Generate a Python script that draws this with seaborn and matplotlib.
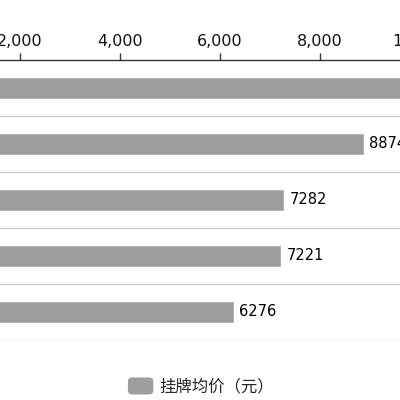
import matplotlib
matplotlib.use("Agg")
import matplotlib.pyplot as plt
import matplotlib.patches as mpatches
from matplotlib.legend_handler import HandlerPatch
from matplotlib.ticker import FuncFormatter, FixedLocator
import pandas as pd
import seaborn as sns

# data (category names are outside the visible crop)
areas = ["区域一", "区域二", "区域三", "区域四", "区域五"]
prices = [10400, 8874, 7282, 7221, 6276]
series_name = "挂牌均价（元）"
x_ticks = [0, 2000, 4000, 6000, 8000, 10000, 12000]

df = pd.DataFrame({"area": areas, "price": prices})

sns.set_theme(style="white")
plt.rcParams["font.family"] = ["DejaVu Sans", "Noto Sans CJK SC"]

fig = plt.figure(figsize=(4, 4), dpi=100)
# axes extends past the figure edges (reference is a crop)
ax = fig.add_axes([-0.2, 0.15, 1.5, 0.70])

bar_color = "#9e9e9e"
sns.barplot(data=df, x="price", y="area", orient="h", color=bar_color,
            width=0.39, saturation=1, ax=ax, label=series_name)

ax.set_xlim(0, 12000)
ax.set_ylim(len(areas) - 0.5, -0.5)
ax.xaxis.tick_top()
ax.set_xticks(x_ticks)
ax.xaxis.set_major_formatter(FuncFormatter(lambda v, p: f"{int(v):,}"))
ax.tick_params(axis="x", direction="out", length=5, width=1, color="#333333",
               labelsize=11.5, labelcolor="#111111", pad=3)
ax.tick_params(axis="y", left=False, labelleft=False)
ax.set_xlabel("")
ax.set_ylabel("")

# separators between categories
ax.yaxis.set_minor_locator(FixedLocator([i + 0.5 for i in range(len(areas))]))
ax.grid(True, axis="y", which="minor", color="#cccccc", linewidth=1)
ax.grid(False, axis="y", which="major")
ax.grid(False, axis="x")

for s in ["left", "right", "bottom"]:
    ax.spines[s].set_visible(False)
ax.spines["top"].set_color("#333333")
ax.spines["top"].set_linewidth(1)

ax.bar_label(ax.containers[0], labels=[str(v) for v in prices], padding=4,
             fontsize=10.5, color="#000000")

if ax.get_legend() is not None:
    ax.get_legend().remove()


class RoundHandler(HandlerPatch):
    def create_artists(self, legend, orig_handle, xdescent, ydescent,
                       width, height, fontsize, trans):
        p = mpatches.FancyBboxPatch((-xdescent, -ydescent - 2), width, height + 4,
                                    boxstyle="round,pad=0,rounding_size=3",
                                    facecolor=bar_color, edgecolor="none",
                                    transform=trans)
        return [p]


handle = mpatches.Patch(color=bar_color, label=series_name)
fig.legend(handles=[handle], handler_map={mpatches.Patch: RoundHandler()},
           loc="center", bbox_to_anchor=(0.502, 0.032), frameon=False,
           handlelength=1.55, handletextpad=0.35,
           prop={"family": ["Noto Sans CJK SC", "DejaVu Sans"], "size": 11.8,
                 "weight": "medium"})

fig.savefig("out.png", dpi=100)
